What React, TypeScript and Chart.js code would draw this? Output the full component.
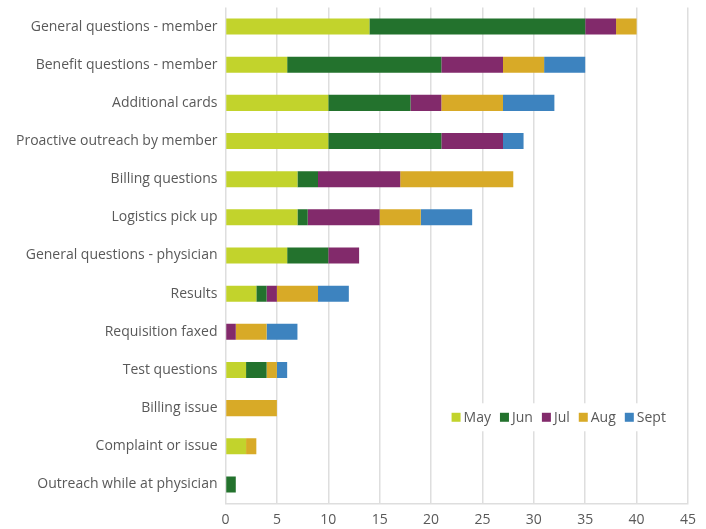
import React, { useEffect, useRef } from "react";
import { Chart, registerables } from "chart.js";

Chart.register(...registerables);

const categories = [
  "General questions - member",
  "Benefit questions - member",
  "Additional cards",
  "Proactive outreach by member",
  "Billing questions",
  "Logistics pick up",
  "General questions - physician",
  "Results",
  "Requisition faxed",
  "Test questions",
  "Billing issue",
  "Complaint or issue",
  "Outreach while at physician",
];

const seriesNames = ["May", "Jun", "Jul", "Aug", "Sept"];
const seriesColors = ["#c2d32c", "#23722d", "#822a6b", "#d8aa27", "#3d83bf"];

const mayValues = [14, 6, 10, 10, 7, 7, 6, 3, 0, 2, 0, 2, 0];
const junValues = [21, 15, 8, 11, 2, 1, 4, 1, 0, 2, 0, 0, 1];
const julValues = [3, 6, 3, 6, 8, 7, 3, 1, 1, 0, 0, 0, 0];
const augValues = [2, 4, 6, 0, 11, 4, 0, 4, 3, 1, 5, 1, 0];
const septValues = [0, 4, 5, 2, 0, 5, 0, 3, 3, 1, 0, 0, 0];

const xTicks = [0, 5, 10, 15, 20, 25, 30, 35, 40, 45];

const FONT = "'Open Sans', 'Noto Sans', sans-serif";
const TEXT = "#595959";

const insideLegend = {
  id: "insideLegend",
  afterDatasetsDraw(chart: any) {
    const ctx = chart.ctx;
    const xs = chart.scales.x;
    const ys = chart.scales.y;
    ctx.save();
    ctx.font = `14px ${FONT}`;
    const box = 9;
    const gapBoxText = 3;
    const gapItems = 9;
    const items = chart.data.datasets.map((d: any) => ({
      label: d.label,
      color: d.backgroundColor,
      w: box + gapBoxText + ctx.measureText(d.label).width,
    }));
    const total = items.reduce((s: number, it: any) => s + it.w, 0) + gapItems * (items.length - 1);
    const y10 = ys.getPixelForValue(10);
    const y11 = ys.getPixelForValue(11);
    const cy = y10 + (y11 - y10) * 0.24;
    const right = xs.getPixelForValue(42.85);
    let x = right - total;
    ctx.fillStyle = "#ffffff";
    ctx.fillRect(x - 5, cy - 14, total + 8, 28);
    ctx.textBaseline = "middle";
    ctx.textAlign = "left";
    for (const it of items) {
      ctx.fillStyle = it.color;
      ctx.fillRect(x, cy - box / 2, box, box);
      ctx.fillStyle = TEXT;
      ctx.fillText(it.label, x + box + gapBoxText, cy + 1);
      x += it.w + gapItems;
    }
    ctx.restore();
  },
};

export default function App() {
  const ref = useRef<HTMLCanvasElement | null>(null);

  useEffect(() => {
    document.body.style.margin = "0";
    const allSeries = [mayValues, junValues, julValues, augValues, septValues];
    const chart = new Chart(ref.current as HTMLCanvasElement, {
      type: "bar",
      data: {
        labels: categories,
        datasets: allSeries.map((vals, i) => ({
          label: seriesNames[i],
          data: vals,
          backgroundColor: seriesColors[i],
          borderWidth: 0,
          categoryPercentage: 1,
          barPercentage: 0.42,
        })),
      },
      options: {
        indexAxis: "y",
        animation: false,
        responsive: false,
        maintainAspectRatio: false,
        layout: { padding: { top: 7.5, right: 18, bottom: 0, left: 0 } },
        plugins: {
          legend: { display: false },
          tooltip: { enabled: false },
        },
        scales: {
          x: {
            stacked: true,
            min: 0,
            max: 45,
            afterBuildTicks: (s: any) => {
              s.ticks = xTicks.map((v) => ({ value: v }));
            },
            afterFit: (s: any) => {
              s.height = 25.5;
            },
            grid: { color: "#dedede", lineWidth: 1.5, drawTicks: false },
            border: { color: "#dedede", width: 1.5 },
            ticks: {
              color: TEXT,
              font: { family: FONT, size: 14 },
              padding: 8,
            },
          },
          y: {
            stacked: true,
            afterFit: (s: any) => {
              s.width = 225.5;
              s.paddingTop = 0;
              s.paddingBottom = 0;
            },
            grid: { display: false, drawTicks: false },
            border: { display: false },
            ticks: {
              color: TEXT,
              font: { family: FONT, size: 14 },
              padding: 8,
              autoSkip: false,
            },
          },
        },
      },
      plugins: [insideLegend],
    } as any);
    return () => chart.destroy();
  }, []);

  return (
    <div style={{ width: 706, height: 529 }}>
      <canvas ref={ref} width={706} height={529} style={{ width: 706, height: 529, display: "block" }} />
    </div>
  );
}
